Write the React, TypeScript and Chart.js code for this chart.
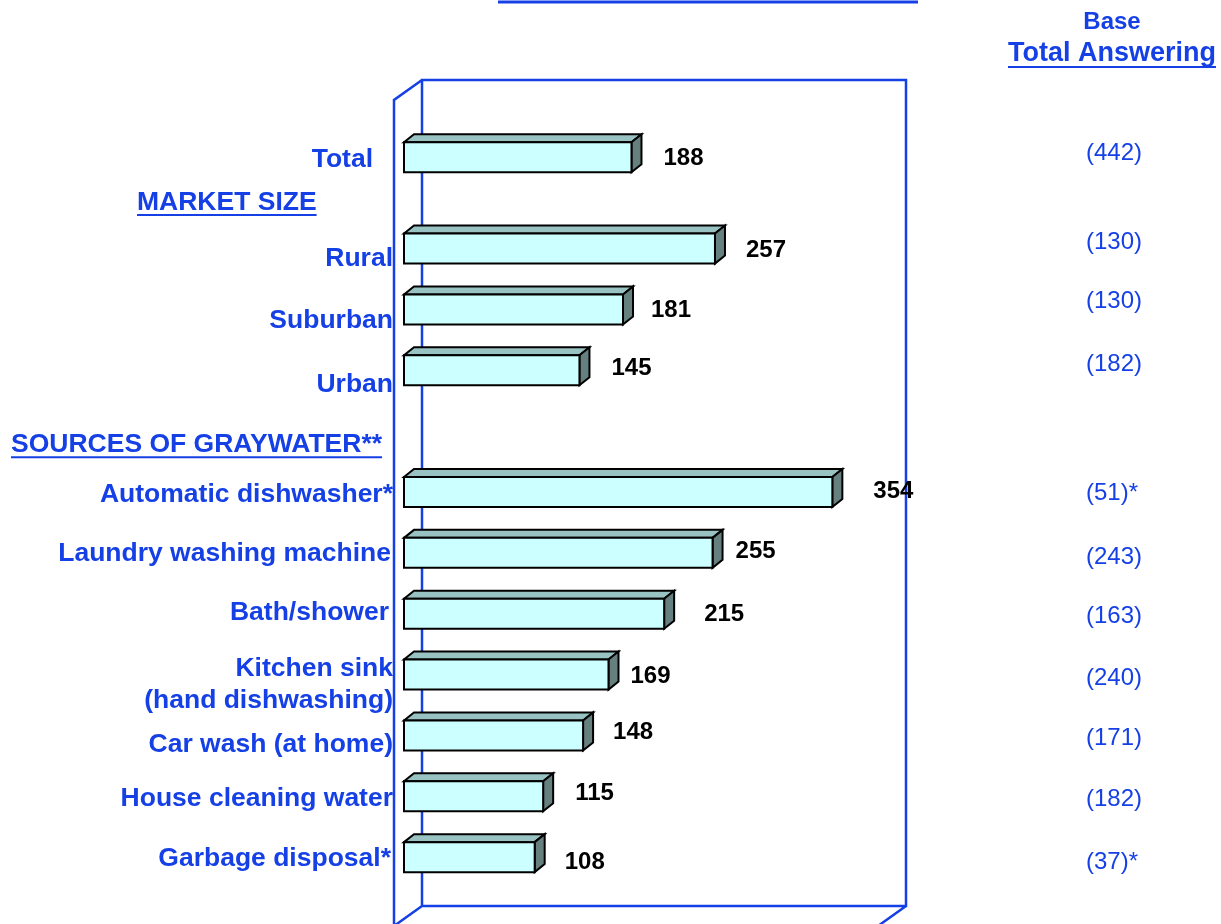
import React, { useEffect, useRef } from "react";
import { Chart, registerables } from "chart.js";

Chart.register(...registerables);

// ---- data ----
const categories = [
  "Total",
  "Rural",
  "Suburban",
  "Urban",
  "Automatic dishwasher*",
  "Laundry washing machine",
  "Bath/shower",
  "Kitchen sink\n(hand dishwashing)",
  "Car wash (at home)",
  "House cleaning water",
  "Garbage disposal*",
];
const values = [188, 257, 181, 145, 354, 255, 215, 169, 148, 115, 108];
const bases = ["(442)", "(130)", "(130)", "(182)", "(51)*", "(243)", "(163)", "(240)", "(171)", "(182)", "(37)*"];
// row position of each category in the grouped list (group headings take space)
const rowSlots = [0, 1.5, 2.5, 3.5, 5.5, 6.5, 7.5, 8.5, 9.5, 10.5, 11.5];
const headings = ["MARKET SIZE", "SOURCES OF GRAYWATER**"];
const headingSlots = [0.75, 4.73];
const baseHeader = ["Base", "Total Answering"];

// ---- layout / style ----
const labelDy = [2, 10, 11, 14, 3, 1, -1, 10, 9, 2, 2];
const labelDx = [-20, 0, 0, 0, 0, -2, -4, 0, 0, 0, -2];
const baseDy = [-4, -6, -8, -6, 1, 5, 3, 4, 3, 3, 5];
const valueDx = [2, 1, -2, 2, 11, -7, 10, -8, 0, 2, 0];
const valueDy = [1, 2, 1, -2, -1, -1, 1, 2, -3, -3, 5];
const headingX = [137, 11];
const BLUE = "#1540e6";
const FONT = '"Liberation Sans", Arial, Helvetica, sans-serif';
const DX = 10;
const DY = 8;

function underline(ctx: CanvasRenderingContext2D, x0: number, x1: number, y: number) {
  ctx.save();
  ctx.strokeStyle = BLUE;
  ctx.lineWidth = 2;
  ctx.beginPath();
  ctx.moveTo(x0, y);
  ctx.lineTo(x1, y);
  ctx.stroke();
  ctx.restore();
}

const decorPlugin = {
  id: "decor",
  beforeDatasetsDraw(chart: any) {
    const ctx: CanvasRenderingContext2D = chart.ctx;
    const { left, right } = chart.chartArea;
    const depthX = 28;
    const depthY = 20;
    const backTop = 80;
    const backBottom = 906;
    ctx.save();
    ctx.strokeStyle = BLUE;
    ctx.lineWidth = 2.5;
    ctx.beginPath();
    // back wall
    ctx.moveTo(left + depthX, backBottom);
    ctx.lineTo(left + depthX, backTop);
    ctx.lineTo(right + depthX, backTop);
    ctx.lineTo(right + depthX, backBottom);
    ctx.lineTo(left + depthX, backBottom);
    // left side wall
    ctx.moveTo(left + depthX, backTop);
    ctx.lineTo(left, backTop + depthY);
    ctx.lineTo(left, backBottom + depthY);
    ctx.lineTo(left + depthX, backBottom);
    // floor right diagonal
    ctx.moveTo(right + depthX, backBottom);
    ctx.lineTo(right, backBottom + depthY);
    ctx.stroke();
    // top title rule fragment
    ctx.lineWidth = 3;
    ctx.beginPath();
    ctx.moveTo(498, 2);
    ctx.lineTo(918, 2);
    ctx.stroke();
    ctx.restore();
  },
  afterDatasetsDraw(chart: any) {
    const ctx: CanvasRenderingContext2D = chart.ctx;
    const meta = chart.getDatasetMeta(0);
    const yScale = chart.scales.y;
    ctx.save();
    meta.data.forEach((el: any, i: number) => {
      const p = el.getProps(["x", "y", "base", "height"], true);
      const x0 = p.base + DX;
      const x1 = p.x + DX;
      const y0 = p.y - p.height / 2;
      const y1 = p.y + p.height / 2;
      ctx.lineWidth = 2;
      ctx.strokeStyle = "#000000";
      ctx.lineJoin = "miter";
      // top face
      ctx.beginPath();
      ctx.moveTo(x0, y0);
      ctx.lineTo(x0 + DX, y0 - DY);
      ctx.lineTo(x1 + DX, y0 - DY);
      ctx.lineTo(x1, y0);
      ctx.closePath();
      ctx.fillStyle = "#99c2c2";
      ctx.fill();
      ctx.stroke();
      // side face
      ctx.beginPath();
      ctx.moveTo(x1, y0);
      ctx.lineTo(x1 + DX, y0 - DY);
      ctx.lineTo(x1 + DX, y1 - DY);
      ctx.lineTo(x1, y1);
      ctx.closePath();
      ctx.fillStyle = "#668080";
      ctx.fill();
      ctx.stroke();
      // front face
      ctx.beginPath();
      ctx.rect(x0, y0, x1 - x0, y1 - y0);
      ctx.fillStyle = "#ccffff";
      ctx.fill();
      ctx.stroke();

      // value label
      ctx.fillStyle = "#000000";
      ctx.font = `bold 24px ${FONT}`;
      ctx.textAlign = "left";
      ctx.textBaseline = "middle";
      ctx.fillText(String(values[i]), x1 + DX + 20 + valueDx[i], p.y + valueDy[i]);

      // category label
      ctx.fillStyle = BLUE;
      ctx.font = `bold 26.5px ${FONT}`;
      ctx.textAlign = "right";
      const lines = categories[i].split("\n");
      const lh = 32;
      const cy = p.y + labelDy[i];
      lines.forEach((ln, k) => {
        const ly = cy + (k - (lines.length - 1) / 2) * lh;
        ctx.fillText(ln, 393 + labelDx[i], ly);
      });

      // base
      ctx.font = `24px ${FONT}`;
      ctx.textAlign = "left";
      ctx.fillText(bases[i], 1086, p.y + baseDy[i]);
    });

    // group headings
    ctx.font = `bold 26.5px ${FONT}`;
    ctx.textAlign = "left";
    ctx.textBaseline = "middle";
    ctx.fillStyle = BLUE;
    headings.forEach((h, k) => {
      const y = yScale.getPixelForValue(headingSlots[k]);
      ctx.fillText(h, headingX[k], y);
      const w = ctx.measureText(h).width;
      underline(ctx, headingX[k], headingX[k] + w, y + 12);
    });

    // base column header
    ctx.font = `bold 24px ${FONT}`;
    ctx.textAlign = "center";
    ctx.fillText(baseHeader[0], 1112, 22);
    ctx.font = `bold 27px ${FONT}`;
    ctx.fillText(baseHeader[1], 1112, 54);
    const w2 = ctx.measureText(baseHeader[1]).width;
    underline(ctx, 1112 - w2 / 2, 1112 + w2 / 2, 67);
    ctx.restore();
  },
};

export default function App() {
  const ref = useRef<HTMLCanvasElement | null>(null);
  useEffect(() => {
    if (!ref.current) return;
    const chart = new Chart(ref.current, {
      type: "bar",
      data: {
        datasets: [
          {
            label: "Base",
            data: values.map((v, i) => ({ x: v, y: rowSlots[i] })),
            backgroundColor: "rgba(0,0,0,0)",
            borderWidth: 0,
            barThickness: 30,
          } as any,
        ],
      },
      options: {
        indexAxis: "y",
        responsive: false,
        animation: false,
        devicePixelRatio: 1,
        layout: { padding: { left: 394, right: 343, top: 66, bottom: 6 } },
        plugins: { legend: { display: false }, tooltip: { enabled: false }, title: { display: false } },
        scales: {
          x: { type: "linear", min: 0, max: 400, display: false },
          y: { type: "linear", min: -1.5, max: 12.5, reverse: true, offset: false, display: false },
        },
      } as any,
      plugins: [decorPlugin],
    });
    return () => chart.destroy();
  }, []);
  return (
    <div style={{ position: "absolute", left: 0, top: 0, width: 1221, height: 924, background: "#fff" }}>
      <canvas ref={ref} width={1221} height={924} style={{ display: "block" }} />
    </div>
  );
}
